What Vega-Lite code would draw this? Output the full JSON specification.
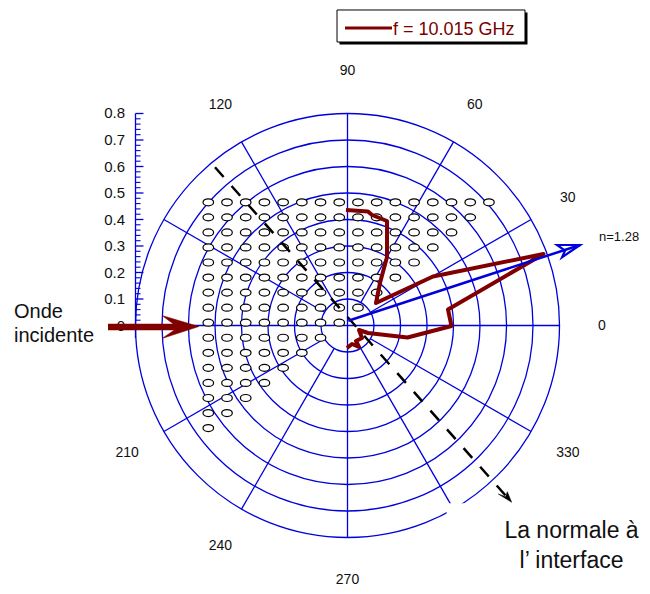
{
  "$schema": "https://vega.github.io/schema/vega-lite/v6.json",
  "width": 650,
  "height": 594,
  "autosize": {"type": "none"},
  "padding": 0,
  "background": "white",
  "config": {"view": {"stroke": null}},
  "layer": [
    {
      "data": {"values": [{"r": 0.1}, {"r": 0.2}, {"r": 0.3}, {"r": 0.4}, {"r": 0.5}, {"r": 0.6}, {"r": 0.7}, {"r": 0.8}]},
      "mark": {"type": "arc", "theta": 0, "theta2": 6.2832, "fill": null, "stroke": "#0000dd", "strokeWidth": 1.3},
      "encoding": {
        "x": {"datum": 0, "type": "quantitative", "scale": {"domain": [-1.3113, 1.1415], "nice": false, "zero": false}, "axis": null},
        "y": {"datum": 0, "type": "quantitative", "scale": {"domain": [-1.0132, 1.2283], "nice": false, "zero": false}, "axis": null},
        "radius": {"field": "r", "type": "quantitative", "stack": null, "scale": {"type": "linear", "domain": [0, 1], "range": [0, 265], "zero": true, "nice": false}, "legend": null}
      }
    },
    {
      "data": {"values": [
        {"x": 0.0866, "y": 0.05, "x2": 0.6928, "y2": 0.4},
        {"x": 0.05, "y": 0.0866, "x2": 0.4, "y2": 0.6928},
        {"x": -0.05, "y": 0.0866, "x2": -0.4, "y2": 0.6928},
        {"x": -0.0866, "y": 0.05, "x2": -0.6928, "y2": 0.4},
        {"x": -0.0866, "y": -0.05, "x2": -0.6928, "y2": -0.4},
        {"x": -0.05, "y": -0.0866, "x2": -0.4, "y2": -0.6928},
        {"x": 0.05, "y": -0.0866, "x2": 0.4, "y2": -0.6928},
        {"x": 0.0866, "y": -0.05, "x2": 0.6928, "y2": -0.4},
        {"x": -0.8, "y": 0, "x2": 0.8, "y2": 0},
        {"x": 0, "y": -0.8, "x2": 0, "y2": 0.8},
        {"x": -0.8, "y": -0.047, "x2": -0.8, "y2": 0.8}
      ]},
      "mark": {"type": "rule", "color": "#0000dd", "strokeWidth": 1.3},
      "encoding": {
        "x": {"field": "x", "type": "quantitative", "scale": {"domain": [-1.3113, 1.1415], "nice": false, "zero": false}, "axis": null},
        "y": {"field": "y", "type": "quantitative", "scale": {"domain": [-1.0132, 1.2283], "nice": false, "zero": false}, "axis": null},
        "x2": {"field": "x2"}, "y2": {"field": "y2"}
      }
    },
    {
      "data": {"values": [{"y": 0}, {"y": 0.1}, {"y": 0.2}, {"y": 0.3}, {"y": 0.4}, {"y": 0.5}, {"y": 0.6}, {"y": 0.7}, {"y": 0.8}]},
      "mark": {"type": "rule", "color": "#0000dd", "strokeWidth": 1.3},
      "encoding": {
        "x": {"datum": -0.8, "type": "quantitative", "scale": {"domain": [-1.3113, 1.1415], "nice": false, "zero": false}, "axis": null},
        "x2": {"datum": -0.77},
        "y": {"field": "y", "type": "quantitative", "scale": {"domain": [-1.0132, 1.2283], "nice": false, "zero": false}, "axis": null}
      }
    },
    {
      "data": {"values": [
        {"y": 0.02}, {"y": 0.04}, {"y": 0.06}, {"y": 0.08},
        {"y": 0.12}, {"y": 0.14}, {"y": 0.16}, {"y": 0.18},
        {"y": 0.22}, {"y": 0.24}, {"y": 0.26}, {"y": 0.28},
        {"y": 0.32}, {"y": 0.34}, {"y": 0.36}, {"y": 0.38},
        {"y": 0.42}, {"y": 0.44}, {"y": 0.46}, {"y": 0.48},
        {"y": 0.52}, {"y": 0.54}, {"y": 0.56}, {"y": 0.58},
        {"y": 0.62}, {"y": 0.64}, {"y": 0.66}, {"y": 0.68},
        {"y": 0.72}, {"y": 0.74}, {"y": 0.76}, {"y": 0.78}
      ]},
      "mark": {"type": "rule", "color": "#0000dd", "strokeWidth": 1.1},
      "encoding": {
        "x": {"datum": -0.8, "type": "quantitative", "scale": {"domain": [-1.3113, 1.1415], "nice": false, "zero": false}, "axis": null},
        "x2": {"datum": -0.781},
        "y": {"field": "y", "type": "quantitative", "scale": {"domain": [-1.0132, 1.2283], "nice": false, "zero": false}, "axis": null}
      }
    },
    {
      "data": {"values": [
        {"x": -0.5253, "y": 0.4649}, {"x": -0.4547, "y": 0.4649}, {"x": -0.3841, "y": 0.4649}, {"x": -0.3135, "y": 0.4649}, {"x": -0.2429, "y": 0.4649}, {"x": -0.1723, "y": 0.4649}, {"x": -0.1017, "y": 0.4649}, {"x": -0.0311, "y": 0.4649}, {"x": 0.0395, "y": 0.4649}, {"x": 0.1101, "y": 0.4649}, {"x": 0.1807, "y": 0.4649}, {"x": 0.2513, "y": 0.4649}, {"x": 0.3219, "y": 0.4649}, {"x": 0.3925, "y": 0.4649}, {"x": 0.4631, "y": 0.4649}, {"x": 0.5337, "y": 0.4649},
        {"x": -0.5253, "y": 0.4081}, {"x": -0.4547, "y": 0.4081}, {"x": -0.3841, "y": 0.4081}, {"x": -0.3135, "y": 0.4081}, {"x": -0.2429, "y": 0.4081}, {"x": -0.1723, "y": 0.4081}, {"x": -0.1017, "y": 0.4081}, {"x": -0.0311, "y": 0.4081}, {"x": 0.0395, "y": 0.4081}, {"x": 0.1101, "y": 0.4081}, {"x": 0.1807, "y": 0.4081}, {"x": 0.2513, "y": 0.4081}, {"x": 0.3219, "y": 0.4081}, {"x": 0.3925, "y": 0.4081}, {"x": 0.4631, "y": 0.4081},
        {"x": -0.5253, "y": 0.3513}, {"x": -0.4547, "y": 0.3513}, {"x": -0.3841, "y": 0.3513}, {"x": -0.3135, "y": 0.3513}, {"x": -0.2429, "y": 0.3513}, {"x": -0.1723, "y": 0.3513}, {"x": -0.1017, "y": 0.3513}, {"x": -0.0311, "y": 0.3513}, {"x": 0.0395, "y": 0.3513}, {"x": 0.1101, "y": 0.3513}, {"x": 0.1807, "y": 0.3513}, {"x": 0.2513, "y": 0.3513}, {"x": 0.3219, "y": 0.3513}, {"x": 0.3925, "y": 0.3513},
        {"x": -0.5253, "y": 0.2945}, {"x": -0.4547, "y": 0.2945}, {"x": -0.3841, "y": 0.2945}, {"x": -0.3135, "y": 0.2945}, {"x": -0.2429, "y": 0.2945}, {"x": -0.1723, "y": 0.2945}, {"x": -0.1017, "y": 0.2945}, {"x": -0.0311, "y": 0.2945}, {"x": 0.0395, "y": 0.2945}, {"x": 0.1101, "y": 0.2945}, {"x": 0.1807, "y": 0.2945}, {"x": 0.2513, "y": 0.2945}, {"x": 0.3219, "y": 0.2945},
        {"x": -0.5253, "y": 0.2377}, {"x": -0.4547, "y": 0.2377}, {"x": -0.3841, "y": 0.2377}, {"x": -0.3135, "y": 0.2377}, {"x": -0.2429, "y": 0.2377}, {"x": -0.1723, "y": 0.2377}, {"x": -0.1017, "y": 0.2377}, {"x": -0.0311, "y": 0.2377}, {"x": 0.0395, "y": 0.2377}, {"x": 0.1101, "y": 0.2377}, {"x": 0.1807, "y": 0.2377}, {"x": 0.2513, "y": 0.2377},
        {"x": -0.5253, "y": 0.1809}, {"x": -0.4547, "y": 0.1809}, {"x": -0.3841, "y": 0.1809}, {"x": -0.3135, "y": 0.1809}, {"x": -0.2429, "y": 0.1809}, {"x": -0.1723, "y": 0.1809}, {"x": -0.1017, "y": 0.1809}, {"x": -0.0311, "y": 0.1809}, {"x": 0.0395, "y": 0.1809}, {"x": 0.1101, "y": 0.1809}, {"x": 0.1807, "y": 0.1809},
        {"x": -0.5253, "y": 0.1241}, {"x": -0.4547, "y": 0.1241}, {"x": -0.3841, "y": 0.1241}, {"x": -0.3135, "y": 0.1241}, {"x": -0.2429, "y": 0.1241}, {"x": -0.1723, "y": 0.1241}, {"x": -0.1017, "y": 0.1241}, {"x": -0.0311, "y": 0.1241}, {"x": 0.0395, "y": 0.1241}, {"x": 0.1101, "y": 0.1241},
        {"x": -0.5253, "y": 0.0673}, {"x": -0.4547, "y": 0.0673}, {"x": -0.3841, "y": 0.0673}, {"x": -0.3135, "y": 0.0673}, {"x": -0.2429, "y": 0.0673}, {"x": -0.1723, "y": 0.0673}, {"x": -0.1017, "y": 0.0673}, {"x": -0.0311, "y": 0.0673}, {"x": 0.0395, "y": 0.0673},
        {"x": -0.5253, "y": 0.0105}, {"x": -0.4547, "y": 0.0105}, {"x": -0.3841, "y": 0.0105}, {"x": -0.3135, "y": 0.0105}, {"x": -0.2429, "y": 0.0105}, {"x": -0.1723, "y": 0.0105}, {"x": -0.1017, "y": 0.0105}, {"x": -0.0311, "y": 0.0105},
        {"x": -0.5253, "y": -0.0463}, {"x": -0.4547, "y": -0.0463}, {"x": -0.3841, "y": -0.0463}, {"x": -0.3135, "y": -0.0463}, {"x": -0.2429, "y": -0.0463}, {"x": -0.1723, "y": -0.0463}, {"x": -0.1017, "y": -0.0463},
        {"x": -0.5253, "y": -0.1031}, {"x": -0.4547, "y": -0.1031}, {"x": -0.3841, "y": -0.1031}, {"x": -0.3135, "y": -0.1031}, {"x": -0.2429, "y": -0.1031}, {"x": -0.1723, "y": -0.1031},
        {"x": -0.5253, "y": -0.1599}, {"x": -0.4547, "y": -0.1599}, {"x": -0.3841, "y": -0.1599}, {"x": -0.3135, "y": -0.1599}, {"x": -0.2429, "y": -0.1599},
        {"x": -0.5253, "y": -0.2167}, {"x": -0.4547, "y": -0.2167}, {"x": -0.3841, "y": -0.2167}, {"x": -0.3135, "y": -0.2167},
        {"x": -0.5253, "y": -0.2735}, {"x": -0.4547, "y": -0.2735}, {"x": -0.3841, "y": -0.2735},
        {"x": -0.5253, "y": -0.3303}, {"x": -0.4547, "y": -0.3303},
        {"x": -0.5253, "y": -0.3871}
      ]},
      "mark": {"type": "point", "shape": "M-5.3,0A5.3,3.5 0 1,0 5.3,0A5.3,3.5 0 1,0 -5.3,0Z", "size": 4, "filled": true, "fill": "white", "stroke": "black", "strokeWidth": 1.2, "opacity": 1},
      "encoding": {
        "x": {"field": "x", "type": "quantitative", "scale": {"domain": [-1.3113, 1.1415], "nice": false, "zero": false}, "axis": null},
        "y": {"field": "y", "type": "quantitative", "scale": {"domain": [-1.0132, 1.2283], "nice": false, "zero": false}, "axis": null}
      }
    },
    {
      "data": {"values": [{"x": 0.374, "x2": 1.2, "y": -0.671, "y2": -1.1}]},
      "mark": {"type": "rect", "fill": "white"},
      "encoding": {
        "x": {"field": "x", "type": "quantitative", "scale": {"domain": [-1.3113, 1.1415], "nice": false, "zero": false}, "axis": null},
        "y": {"field": "y", "type": "quantitative", "scale": {"domain": [-1.0132, 1.2283], "nice": false, "zero": false}, "axis": null},
        "x2": {"field": "x2"}, "y2": {"field": "y2"}
      }
    },
    {
      "data": {"values": [{"x": -0.5, "y": 0.597, "x2": 0.5981, "y2": -0.6434}]},
      "mark": {"type": "rule", "color": "black", "strokeWidth": 2.5, "strokeDash": [13, 12]},
      "encoding": {
        "x": {"field": "x", "type": "quantitative", "scale": {"domain": [-1.3113, 1.1415], "nice": false, "zero": false}, "axis": null},
        "y": {"field": "y", "type": "quantitative", "scale": {"domain": [-1.0132, 1.2283], "nice": false, "zero": false}, "axis": null},
        "x2": {"field": "x2"}, "y2": {"field": "y2"}
      }
    },
    {
      "data": {"values": [{"x": 0.6196, "y": -0.6672}]},
      "mark": {"type": "point", "shape": "M0,0L-13.4,-8.3L-6,-5.6L-4.4,-10.6Z", "size": 4, "filled": true, "fill": "black", "stroke": "black", "strokeWidth": 0.5, "opacity": 1},
      "encoding": {
        "x": {"field": "x", "type": "quantitative", "scale": {"domain": [-1.3113, 1.1415], "nice": false, "zero": false}, "axis": null},
        "y": {"field": "y", "type": "quantitative", "scale": {"domain": [-1.0132, 1.2283], "nice": false, "zero": false}, "axis": null}
      }
    },
    {
      "data": {"values": [
        {"o": 1, "x": -0.0057, "y": 0.4358},
        {"o": 2, "x": 0.0774, "y": 0.4302},
        {"o": 3, "x": 0.0925, "y": 0.417},
        {"o": 4, "x": 0.1491, "y": 0.3943},
        {"o": 5, "x": 0.1491, "y": 0.2585},
        {"o": 6, "x": 0.1226, "y": 0.1604},
        {"o": 7, "x": 0.1075, "y": 0.0849},
        {"o": 8, "x": 0.3226, "y": 0.1849},
        {"o": 9, "x": 0.7396, "y": 0.2698},
        {"o": 10, "x": 0.3792, "y": 0.0604},
        {"o": 11, "x": 0.3925, "y": -0.0019},
        {"o": 12, "x": 0.2264, "y": -0.0453},
        {"o": 13, "x": 0.0774, "y": -0.0283},
        {"o": 14, "x": 0.0434, "y": -0.017},
        {"o": 15, "x": 0.0547, "y": -0.0472},
        {"o": 16, "x": 0.0321, "y": -0.0585},
        {"o": 17, "x": 0.0434, "y": -0.0811},
        {"o": 18, "x": 0.017, "y": -0.0698},
        {"o": 19, "x": -0.0019, "y": -0.0849}
      ]},
      "mark": {"type": "line", "color": "#800000", "strokeWidth": 4, "strokeJoin": "round"},
      "encoding": {
        "x": {"field": "x", "type": "quantitative", "scale": {"domain": [-1.3113, 1.1415], "nice": false, "zero": false}, "axis": null},
        "y": {"field": "y", "type": "quantitative", "scale": {"domain": [-1.0132, 1.2283], "nice": false, "zero": false}, "axis": null},
        "order": {"field": "o", "type": "quantitative"}
      }
    },
    {
      "data": {"values": [{"x": 0.003, "y": 0.0181, "x2": 0.8774, "y2": 0.3038}]},
      "mark": {"type": "rule", "color": "#0000dd", "strokeWidth": 2.5},
      "encoding": {
        "x": {"field": "x", "type": "quantitative", "scale": {"domain": [-1.3113, 1.1415], "nice": false, "zero": false}, "axis": null},
        "y": {"field": "y", "type": "quantitative", "scale": {"domain": [-1.0132, 1.2283], "nice": false, "zero": false}, "axis": null},
        "x2": {"field": "x2"}, "y2": {"field": "y2"}
      }
    },
    {
      "data": {"values": [{"x": 0.8774, "y": 0.3038}]},
      "mark": {"type": "point", "shape": "M-23,0L0,0L-18,12.3L-15,5.7Z", "size": 4, "filled": false, "stroke": "#0000dd", "strokeWidth": 2.2, "opacity": 1},
      "encoding": {
        "x": {"field": "x", "type": "quantitative", "scale": {"domain": [-1.3113, 1.1415], "nice": false, "zero": false}, "axis": null},
        "y": {"field": "y", "type": "quantitative", "scale": {"domain": [-1.0132, 1.2283], "nice": false, "zero": false}, "axis": null}
      }
    },
    {
      "data": {"values": [
        {"t": "0", "x": 0.96, "y": 0},
        {"t": "30", "x": 0.8314, "y": 0.48},
        {"t": "60", "x": 0.48, "y": 0.8314},
        {"t": "90", "x": 0, "y": 0.96},
        {"t": "120", "x": -0.48, "y": 0.8314},
        {"t": "210", "x": -0.8314, "y": -0.48},
        {"t": "240", "x": -0.48, "y": -0.8314},
        {"t": "270", "x": 0, "y": -0.96},
        {"t": "330", "x": 0.8314, "y": -0.48}
      ]},
      "mark": {"type": "text", "font": "Liberation Sans", "fontSize": 14, "align": "center", "baseline": "middle", "color": "#111111"},
      "encoding": {
        "x": {"field": "x", "type": "quantitative", "scale": {"domain": [-1.3113, 1.1415], "nice": false, "zero": false}, "axis": null},
        "y": {"field": "y", "type": "quantitative", "scale": {"domain": [-1.0132, 1.2283], "nice": false, "zero": false}, "axis": null},
        "text": {"field": "t"}
      }
    },
    {
      "data": {"values": [
        {"t": "0", "x": -0.8396, "y": 0},
        {"t": "0.1", "x": -0.8396, "y": 0.1},
        {"t": "0.2", "x": -0.8396, "y": 0.2},
        {"t": "0.3", "x": -0.8396, "y": 0.3},
        {"t": "0.4", "x": -0.8396, "y": 0.4},
        {"t": "0.5", "x": -0.8396, "y": 0.5},
        {"t": "0.6", "x": -0.8396, "y": 0.6},
        {"t": "0.7", "x": -0.8396, "y": 0.7},
        {"t": "0.8", "x": -0.8396, "y": 0.8}
      ]},
      "mark": {"type": "text", "font": "Liberation Sans", "fontSize": 15, "align": "right", "baseline": "middle", "color": "#111111"},
      "encoding": {
        "x": {"field": "x", "type": "quantitative", "scale": {"domain": [-1.3113, 1.1415], "nice": false, "zero": false}, "axis": null},
        "y": {"field": "y", "type": "quantitative", "scale": {"domain": [-1.0132, 1.2283], "nice": false, "zero": false}, "axis": null},
        "text": {"field": "t"}
      }
    },
    {
      "data": {"values": [{"t": "n=1.28", "x": 0.949, "y": 0.3189}]},
      "mark": {"type": "text", "font": "Liberation Sans", "fontSize": 13, "align": "left", "baseline": "alphabetic", "color": "#111111"},
      "encoding": {
        "x": {"field": "x", "type": "quantitative", "scale": {"domain": [-1.3113, 1.1415], "nice": false, "zero": false}, "axis": null},
        "y": {"field": "y", "type": "quantitative", "scale": {"domain": [-1.0132, 1.2283], "nice": false, "zero": false}, "axis": null},
        "text": {"field": "t"}
      }
    },
    {
      "data": {"values": [{"t": "Onde", "x": -1.2585, "y": 0.0272}, {"t": "incidente", "x": -1.2585, "y": -0.0611}]},
      "mark": {"type": "text", "font": "Liberation Sans", "fontSize": 20, "align": "left", "baseline": "alphabetic", "color": "#111111"},
      "encoding": {
        "x": {"field": "x", "type": "quantitative", "scale": {"domain": [-1.3113, 1.1415], "nice": false, "zero": false}, "axis": null},
        "y": {"field": "y", "type": "quantitative", "scale": {"domain": [-1.0132, 1.2283], "nice": false, "zero": false}, "axis": null},
        "text": {"field": "t"}
      }
    },
    {
      "data": {"values": [{"t": "La normale à", "x": 0.8453, "y": -0.803}, {"t": "l’ interface", "x": 0.8453, "y": -0.9162}]},
      "mark": {"type": "text", "font": "Liberation Sans", "fontSize": 23, "align": "center", "baseline": "alphabetic", "color": "#111111"},
      "encoding": {
        "x": {"field": "x", "type": "quantitative", "scale": {"domain": [-1.3113, 1.1415], "nice": false, "zero": false}, "axis": null},
        "y": {"field": "y", "type": "quantitative", "scale": {"domain": [-1.0132, 1.2283], "nice": false, "zero": false}, "axis": null},
        "text": {"field": "t"}
      }
    },
    {
      "data": {"values": [{"x": -0.9038, "y": -0.0057, "x2": -0.632, "y2": -0.0057}]},
      "mark": {"type": "rule", "color": "#800000", "strokeWidth": 6.5},
      "encoding": {
        "x": {"field": "x", "type": "quantitative", "scale": {"domain": [-1.3113, 1.1415], "nice": false, "zero": false}, "axis": null},
        "y": {"field": "y", "type": "quantitative", "scale": {"domain": [-1.0132, 1.2283], "nice": false, "zero": false}, "axis": null},
        "x2": {"field": "x2"}, "y2": {"field": "y2"}
      }
    },
    {
      "data": {"values": [{"x": -0.5604, "y": -0.0038}]},
      "mark": {"type": "point", "shape": "M0,0L-37,-11L-21,1L-37,12Z", "size": 4, "filled": true, "fill": "#800000", "stroke": "#800000", "strokeWidth": 0.5, "opacity": 1},
      "encoding": {
        "x": {"field": "x", "type": "quantitative", "scale": {"domain": [-1.3113, 1.1415], "nice": false, "zero": false}, "axis": null},
        "y": {"field": "y", "type": "quantitative", "scale": {"domain": [-1.0132, 1.2283], "nice": false, "zero": false}, "axis": null}
      }
    },
    {
      "data": {"values": [{"x": -0.0302, "x2": 0.6792, "y": 1.0604, "y2": 1.1811}]},
      "mark": {"type": "rect", "fill": "black"},
      "encoding": {
        "x": {"field": "x", "type": "quantitative", "scale": {"domain": [-1.3113, 1.1415], "nice": false, "zero": false}, "axis": null},
        "y": {"field": "y", "type": "quantitative", "scale": {"domain": [-1.0132, 1.2283], "nice": false, "zero": false}, "axis": null},
        "x2": {"field": "x2"}, "y2": {"field": "y2"}
      }
    },
    {
      "data": {"values": [{"x": -0.0396, "x2": 0.6698, "y": 1.0698, "y2": 1.1906}]},
      "mark": {"type": "rect", "fill": "white", "stroke": "black", "strokeWidth": 1},
      "encoding": {
        "x": {"field": "x", "type": "quantitative", "scale": {"domain": [-1.3113, 1.1415], "nice": false, "zero": false}, "axis": null},
        "y": {"field": "y", "type": "quantitative", "scale": {"domain": [-1.0132, 1.2283], "nice": false, "zero": false}, "axis": null},
        "x2": {"field": "x2"}, "y2": {"field": "y2"}
      }
    },
    {
      "data": {"values": [{"x": -0.0094, "x2": 0.1679, "y": 1.1226, "y2": 1.1226}]},
      "mark": {"type": "rule", "color": "#800000", "strokeWidth": 3},
      "encoding": {
        "x": {"field": "x", "type": "quantitative", "scale": {"domain": [-1.3113, 1.1415], "nice": false, "zero": false}, "axis": null},
        "y": {"field": "y", "type": "quantitative", "scale": {"domain": [-1.0132, 1.2283], "nice": false, "zero": false}, "axis": null},
        "x2": {"field": "x2"}, "y2": {"field": "y2"}
      }
    },
    {
      "data": {"values": [{"t": "f = 10.015 GHz", "x": 0.1717, "y": 1.0962}]},
      "mark": {"type": "text", "font": "Liberation Sans", "fontSize": 18, "align": "left", "baseline": "alphabetic", "color": "#7a0000"},
      "encoding": {
        "x": {"field": "x", "type": "quantitative", "scale": {"domain": [-1.3113, 1.1415], "nice": false, "zero": false}, "axis": null},
        "y": {"field": "y", "type": "quantitative", "scale": {"domain": [-1.0132, 1.2283], "nice": false, "zero": false}, "axis": null},
        "text": {"field": "t"}
      }
    }
  ]
}
